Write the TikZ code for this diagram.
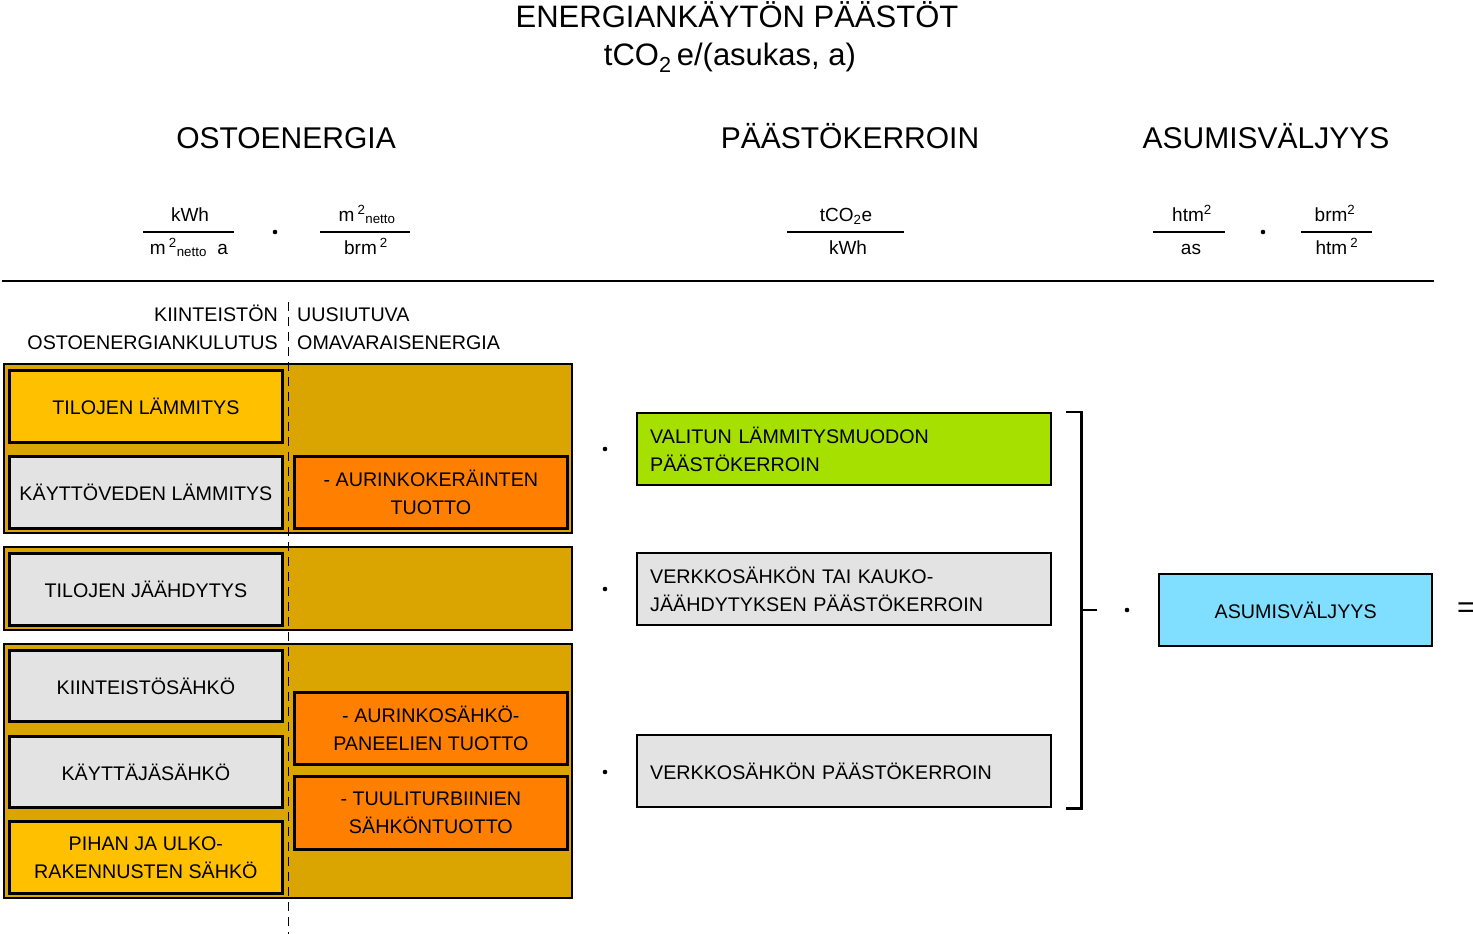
\documentclass[tikz,border=0pt]{standalone}
\usepackage{fontspec}
\setmainfont{Liberation Sans}
\usetikzlibrary{positioning}
\definecolor{goldbg}{HTML}{DAA500}
\definecolor{sunyellow}{HTML}{FFC000}
\definecolor{prodorange}{HTML}{FF8000}
\definecolor{boxgray}{HTML}{E3E3E3}
\definecolor{limegreen}{HTML}{A6E000}
\definecolor{skyblue}{HTML}{80DFFF}
\newcommand{\bxfont}{\fontsize{19.7}{28}\selectfont}
\newcommand{\hdfont}{\fontsize{30}{38}\selectfont}

\begin{document}
\begin{tikzpicture}[
  x=1pt, y=-1pt,
  groupbox/.style={
    draw=black,
    fill=goldbg,
    line width=2.4pt,
    anchor=north west,
    inner sep=0pt,
    minimum width=568pt
  },
  usebox/.style={
    draw=black,
    line width=2.8pt,
    anchor=north west,
    inner sep=0pt,
    minimum width=273pt,
    minimum height=72pt,
    align=center,
    font=\bxfont
  },
  factorbox/.style={
    draw=black,
    line width=2.4pt,
    anchor=north west,
    inner xsep=13pt,
    text width=388pt,
    minimum height=72pt,
    align=left,
    font=\bxfont
  },
  heading/.style={
    anchor=base,
    inner sep=0pt,
    font=\hdfont
  },
  fractext/.style={
    anchor=base,
    inner sep=0pt,
    font=\fontsize{19}{24}\selectfont
  },
  fracline/.style={
    line width=1.4pt
  },
  dotmark/.style={
    circle,
    fill=black,
    inner sep=0pt,
    minimum size=4.6pt
  },
  divider/.style={
    line width=1pt,
    dash pattern=on 9pt off 6pt
  }
]
  \useasboundingbox (0,0) rectangle (1473,934);

  % ----------------------------------------------------
  % TITLE AND COLUMN HEADINGS
  % ----------------------------------------------------
  \node[heading, font=\fontsize{31}{38}\selectfont] (title) at (737,28) {ENERGIANKÄYTÖN PÄÄSTÖT};
  \node[heading, font=\fontsize{31}{38}\selectfont] (unit) at (730,66) {tCO\textsubscript{2}\,e/(asukas, a)};

  \node[heading] (hbuy) at (286,148) {OSTOENERGIA};
  \node[heading] (hfac) at (850,148) {PÄÄSTÖKERROIN};
  \node[heading] (hlive) at (1266,148) {ASUMISVÄLJYYS};

  % Units as fractions
  \node[fractext] (f1n) at (190,221) {kWh};
  \node[fractext] (f1d) at (189,254) {m\,\textsuperscript{2}\textsubscript{netto}\ \ a};
  \draw[fracline] (143,232) -- (234,232);
  \node[dotmark] (m1) at (275,232) {};
  \node[fractext] (f2n) at (367,221) {m\,\textsuperscript{2}\textsubscript{netto}};
  \node[fractext] (f2d) at (366,254) {brm\,\textsuperscript{2}};
  \draw[fracline] (320,232) -- (410,232);

  \node[fractext] (f3n) at (846,221) {tCO\textsubscript{2}e};
  \node[fractext] (f3d) at (848,254) {kWh};
  \draw[fracline] (787,232) -- (904,232);

  \node[fractext] (f4n) at (1192,221) {htm\textsuperscript{2}};
  \node[fractext] (f4d) at (1191,254) {as};
  \draw[fracline] (1153,232) -- (1225,232);
  \node[dotmark] (m2) at (1263,232) {};
  \node[fractext] (f5n) at (1335,221) {brm\textsuperscript{2}};
  \node[fractext] (f5d) at (1337,254) {htm\,\textsuperscript{2}};
  \draw[fracline] (1301,232) -- (1372,232);

  \draw[line width=2pt] (2,281) -- (1434,281);

  % ----------------------------------------------------
  % PURCHASED ENERGY GROUPS
  % ----------------------------------------------------
  \node[anchor=base east, inner sep=0pt, align=right, font=\bxfont] (lbuy) at (278,349) {KIINTEISTÖN\\OSTOENERGIANKULUTUS};
  \node[anchor=base west, inner sep=0pt, align=left, font=\bxfont] (lown) at (297,349) {UUSIUTUVA\\OMAVARAISENERGIA};

  \node[groupbox, minimum height=169pt] (grpheat) at (3,363) {};
  \node[groupbox, minimum height=83pt] (grpcool) at (3,546) {};
  \node[groupbox, minimum height=254pt] (grpelec) at (3,643) {};

  % heating
  \node[usebox, fill=sunyellow] (heat) at (8,369) {TILOJEN LÄMMITYS};
  \node[usebox, fill=boxgray] (dhw) at (8,455) {KÄYTTÖVEDEN LÄMMITYS};
  \node[usebox, fill=prodorange] (solth) at (293,455) {- AURINKOKERÄINTEN\\TUOTTO};

  % cooling
  \node[usebox, fill=boxgray] (cool) at (8,552) {TILOJEN JÄÄHDYTYS};

  % electricity
  \node[usebox, fill=boxgray, minimum height=71pt] (prop) at (8,649) {KIINTEISTÖSÄHKÖ};
  \node[usebox, fill=boxgray, minimum height=71pt] (user) at (8,735) {KÄYTTÄJÄSÄHKÖ};
  \node[usebox, fill=sunyellow] (yard) at (8,820) {PIHAN JA ULKO-\\RAKENNUSTEN SÄHKÖ};
  \node[usebox, fill=prodorange] (pv) at (293,691) {- AURINKOSÄHKÖ-\\PANEELIEN TUOTTO};
  \node[usebox, fill=prodorange, minimum height=73pt] (wind) at (293,775) {- TUULITURBIINIEN\\SÄHKÖNTUOTTO};

  \coordinate (divtop) at (288,302);
  \coordinate (divbot) at (288,934);
  \draw[divider] (divtop) -- (divbot);

  % ----------------------------------------------------
  % EMISSION FACTORS
  % ----------------------------------------------------
  \node[dotmark] (m3) at (605,449) {};
  \node[dotmark] (m4) at (605,589) {};
  \node[dotmark] (m5) at (605,772) {};

  \node[factorbox, fill=limegreen] (fac1) at (636,412) {VALITUN LÄMMITYSMUODON\\PÄÄSTÖKERROIN};
  \node[factorbox, fill=boxgray] (fac2) at (636,552) {VERKKOSÄHKÖN TAI KAUKO-\\JÄÄHDYTYKSEN PÄÄSTÖKERROIN};
  \node[factorbox, fill=boxgray] (fac3) at (636,734) {VERKKOSÄHKÖN PÄÄSTÖKERROIN};

  % bracket round the factors
  \coordinate (brk) at ([xshift=29pt]fac1.north east);
  \draw[line width=2.2pt] ([xshift=14pt]fac1.north east) -- (brk) -- ([xshift=29pt]fac3.south east) -- ([xshift=14pt]fac3.south east);

  % ----------------------------------------------------
  % FLOOR AREA PER RESIDENT
  % ----------------------------------------------------
  \node[usebox, fill=skyblue, line width=2.4pt] (asu) at (1158,573) {ASUMISVÄLJYYS};
  \draw[line width=2.2pt] (brk |- asu.west) -- ++(16,0);
  \node[dotmark] (m6) at (1127,610) {};
  \node[anchor=west, inner sep=0pt, font=\hdfont] (eq) at (1457,610) {=};

\end{tikzpicture}
\end{document}
